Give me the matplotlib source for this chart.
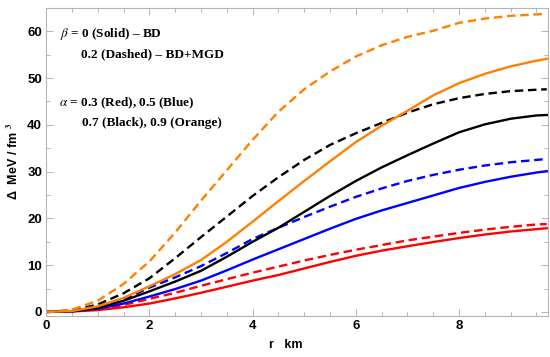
import matplotlib
matplotlib.use("Agg")
import matplotlib.pyplot as plt
from matplotlib.ticker import MultipleLocator

# radius (km)
r = [0, 0.5, 1, 1.5, 2, 2.5, 3, 3.5, 4, 4.5, 5, 5.5, 6, 6.5, 7, 7.5, 8, 8.5, 9, 9.5, 9.7]

# anisotropy Delta (MeV/fm^3), solid = beta 0 (BD), dashed = beta 0.2 (BD+MGD)
red_solid = [0, 0.1, 0.4, 1.0, 1.8, 2.9, 4.1, 5.4, 6.7, 7.9, 9.3, 10.7, 12.0, 13.1, 14.05, 14.95, 15.8, 16.55, 17.2, 17.7, 17.9]
red_dashed = [0, 0.15, 0.6, 1.5, 2.8, 4.1, 5.6, 7.0, 8.4, 9.7, 11.0, 12.2, 13.3, 14.3, 15.3, 16.1, 16.9, 17.6, 18.2, 18.7, 18.8]
blue_solid = [0, 0.15, 0.7, 1.8, 3.3, 4.9, 6.7, 8.9, 11.2, 13.4, 15.6, 17.8, 19.9, 21.7, 23.3, 24.9, 26.5, 27.8, 28.9, 29.8, 30.1]
blue_dashed = [0, 0.2, 0.9, 2.6, 5.2, 7.4, 9.8, 12.6, 15.6, 18.0, 20.3, 22.5, 24.6, 26.4, 28.0, 29.3, 30.4, 31.3, 32.0, 32.5, 32.7]
black_solid = [0, 0.15, 0.9, 2.4, 4.4, 6.5, 8.8, 11.8, 15.0, 18.0, 21.4, 24.8, 28.0, 30.9, 33.5, 36.0, 38.4, 40.1, 41.3, 42.0, 42.1]
black_dashed = [0, 0.3, 1.6, 4.0, 7.2, 11.5, 16.0, 20.4, 24.8, 28.8, 32.5, 35.7, 38.2, 40.4, 42.6, 44.4, 45.7, 46.6, 47.2, 47.5, 47.6]
orange_solid = [0, 0.2, 1.2, 3.0, 5.5, 8.1, 11.1, 15.0, 19.3, 23.7, 28.0, 32.2, 36.3, 39.8, 43.0, 46.3, 48.9, 50.9, 52.5, 53.7, 54.1]
orange_dashed = [0, 0.5, 2.4, 6.0, 10.8, 17.0, 23.8, 30.3, 36.8, 42.8, 47.6, 51.4, 54.6, 57.0, 58.8, 60.1, 61.8, 62.7, 63.3, 63.6, 63.7]

orange = "#ff8000"

plt.rcParams["mathtext.fontset"] = "stix"
fig = plt.figure(figsize=(5.5, 3.57), dpi=100)
ax = fig.add_axes([0.084, 0.115, 0.912, 0.863])

series = [
    (red_solid, "red", "-"), (red_dashed, "red", "--"),
    (blue_solid, "blue", "-"), (blue_dashed, "blue", "--"),
    (black_solid, "black", "-"), (black_dashed, "black", "--"),
    (orange_solid, orange, "-"), (orange_dashed, orange, "--"),
]
for vals, col, ls in series:
    line, = ax.plot(r, vals, color=col, lw=1.7, ls=ls)
    if ls == "--":
        line.set_dashes((3.6, 2.0))

ax.set_xlim(0, 9.72)
ax.set_ylim(-0.85, 65)
ax.xaxis.set_major_locator(MultipleLocator(2))
ax.xaxis.set_minor_locator(MultipleLocator(0.5))
ax.yaxis.set_major_locator(MultipleLocator(10))
ax.yaxis.set_minor_locator(MultipleLocator(5))
for s in ax.spines.values():
    s.set_color("#b4b4b4")
    s.set_linewidth(0.8)
ax.tick_params(which="both", direction="in", top=True, right=True, color="#b4b4b4", width=0.7)
ax.tick_params(which="major", length=5, labelsize=9.5, pad=3)
ax.tick_params(which="minor", length=3)
for lab in ax.get_xticklabels() + ax.get_yticklabels():
    lab.set_fontfamily("Liberation Sans")
    lab.set_fontweight("bold")

ax.set_xlabel("r   km", fontfamily="Liberation Sans", fontweight="bold", fontsize=9)
ax.xaxis.set_label_coords(0.478, -0.075)
ax.set_ylabel(r"Δ  MeV / fm $^{\mathbf{3}}$", fontfamily="Liberation Sans", fontweight="bold", fontsize=9)
ax.yaxis.set_label_coords(-0.05, 0.5)

tkw = dict(transform=ax.transAxes, fontfamily="Liberation Serif", fontweight="bold", fontsize=9.5, va="center")
ax.text(0.027, 0.915, r"$\beta$ = 0 (Solid) – BD", **tkw)
ax.text(0.07, 0.85, "0.2 (Dashed) – BD+MGD", **tkw)
ax.text(0.025, 0.69, r"$\alpha$ = 0.3 (Red), 0.5 (Blue)", **tkw)
ax.text(0.072, 0.625, "0.7 (Black), 0.9 (Orange)", **tkw)

fig.savefig("out.png", dpi=100)
